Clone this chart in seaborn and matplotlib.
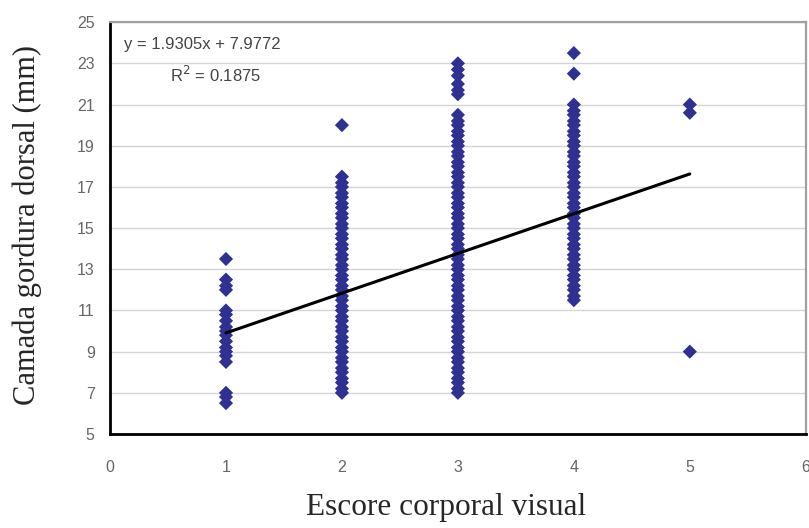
import numpy as np
import pandas as pd
import matplotlib
matplotlib.use('Agg')
import matplotlib.pyplot as plt
import seaborn as sns

# backfat thickness (mm) by visual body score
SCORE_1 = [13.5, 12.5, 12.2, 12.0, 11.0, 10.8, 10.5, 10.2, 10.0, 9.8, 9.5, 9.2,
           9.0, 8.8, 8.5, 7.0, 6.8, 6.5]
SCORE_2 = [20.0, 17.5, 17.2, 17.0, 16.7, 16.5, 16.2, 16.0, 15.7, 15.5, 15.2, 15.0,
           14.7, 14.5, 14.2, 14.0, 13.7, 13.5, 13.2, 13.0, 12.7, 12.5, 12.2, 12.0,
           11.7, 11.5, 11.2, 11.0, 10.7, 10.5, 10.2, 10.0, 9.7, 9.5, 9.2, 9.0,
           8.7, 8.5, 8.2, 8.0, 7.7, 7.5, 7.2, 7.0]
SCORE_3 = [23.0, 22.7, 22.4, 22.0, 21.7, 21.5, 20.5, 20.2, 20.0, 19.7, 19.5, 19.2,
           19.0, 18.7, 18.5, 18.2, 18.0, 17.7, 17.5, 17.2, 17.0, 16.7, 16.5, 16.2,
           16.0, 15.7, 15.5, 15.2, 15.0, 14.7, 14.5, 14.2, 14.0, 13.7, 13.5, 13.2,
           13.0, 12.7, 12.5, 12.2, 12.0, 11.7, 11.5, 11.2, 11.0, 10.7, 10.5, 10.2,
           10.0, 9.7, 9.5, 9.2, 9.0, 8.7, 8.5, 8.2, 8.0, 7.7, 7.5, 7.2, 7.0]
SCORE_4 = [23.5, 22.5, 21.0, 20.7, 20.5, 20.2, 20.0, 19.7, 19.5, 19.2, 19.0, 18.7,
           18.5, 18.2, 18.0, 17.7, 17.5, 17.2, 17.0, 16.7, 16.5, 16.2, 16.0, 15.7,
           15.5, 15.2, 15.0, 14.7, 14.5, 14.2, 14.0, 13.7, 13.5, 13.2, 13.0, 12.7,
           12.5, 12.2, 12.0, 11.7, 11.5]
SCORE_5 = [21.0, 20.6, 9.0]

SLOPE = 1.9305
INTERCEPT = 7.9772
R2 = 0.1875
TREND_X = [1, 5]

X_TICKS = [0, 1, 2, 3, 4, 5, 6]
Y_TICKS = [5, 7, 9, 11, 13, 15, 17, 19, 21, 23, 25]


def build_dataframe() -> pd.DataFrame:
    """Long table score / backfat"""
    groups = [SCORE_1, SCORE_2, SCORE_3, SCORE_4, SCORE_5]
    rows = []
    for score, values in enumerate(groups, start=1):
        rows += [(score, v) for v in values]
    return pd.DataFrame(rows, columns=['Escore', 'Gordura'])


def make_plot() -> None:
    df = build_dataframe()
    trend = pd.DataFrame({'x': TREND_X})
    trend['y'] = SLOPE * trend['x'] + INTERCEPT

    sns.set_style('white')
    fig = plt.figure(figsize=(8.09, 5.28), dpi=100)
    ax = fig.add_axes([0.136, 0.178, 0.860, 0.780])

    ax.yaxis.grid(True, color='#d4d4d4', linewidth=1)
    ax.set_axisbelow(True)

    sns.scatterplot(data=df, x='Escore', y='Gordura', marker='D', s=52,
                    color='#2e3192', edgecolor='none', ax=ax, zorder=3)
    sns.lineplot(data=trend, x='x', y='y', color='black', linewidth=2.2,
                 ax=ax, zorder=4)

    ax.set_xlim(0, 6)
    ax.set_ylim(5, 25)
    ax.set_xticks(X_TICKS)
    ax.set_yticks(Y_TICKS)
    ax.tick_params(axis='both', direction='out', length=5, width=1.2,
                   colors='#333333', labelcolor='#666666', labelsize=11.5)
    ax.tick_params(axis='x', pad=14)
    ax.tick_params(axis='y', pad=6)
    for lab in ax.get_xticklabels() + ax.get_yticklabels():
        lab.set_fontfamily('Liberation Sans')

    ax.spines['left'].set_linewidth(2)
    ax.spines['bottom'].set_linewidth(2)
    ax.spines['left'].set_color('black')
    ax.spines['bottom'].set_color('black')
    ax.spines['top'].set_color('#a0a0a0')
    ax.spines['top'].set_linewidth(1.6)
    ax.spines['right'].set_color('#a0a0a0')
    ax.spines['right'].set_linewidth(1.6)

    ax.set_xlabel('Escore corporal visual', fontfamily='Liberation Serif',
                  fontsize=22.5)
    ax.set_ylabel('Camada gordura dorsal (mm)', fontfamily='Liberation Serif',
                  fontsize=22)
    ax.xaxis.set_label_coords(0.483, -0.143)
    ax.yaxis.set_label_coords(-0.098, 0.507)

    ax.text(0.12, 23.9, f'y = {SLOPE}x + {INTERCEPT}', fontfamily='Liberation Sans',
            fontsize=12, color='#444444', va='center')
    ax.text(0.52, 22.45, f'R$^{{2}}$ = {R2}', fontfamily='Liberation Sans',
            fontsize=12, color='#444444', va='center')

    fig.savefig('out.png', dpi=100)


if __name__ == '__main__':
    make_plot()
